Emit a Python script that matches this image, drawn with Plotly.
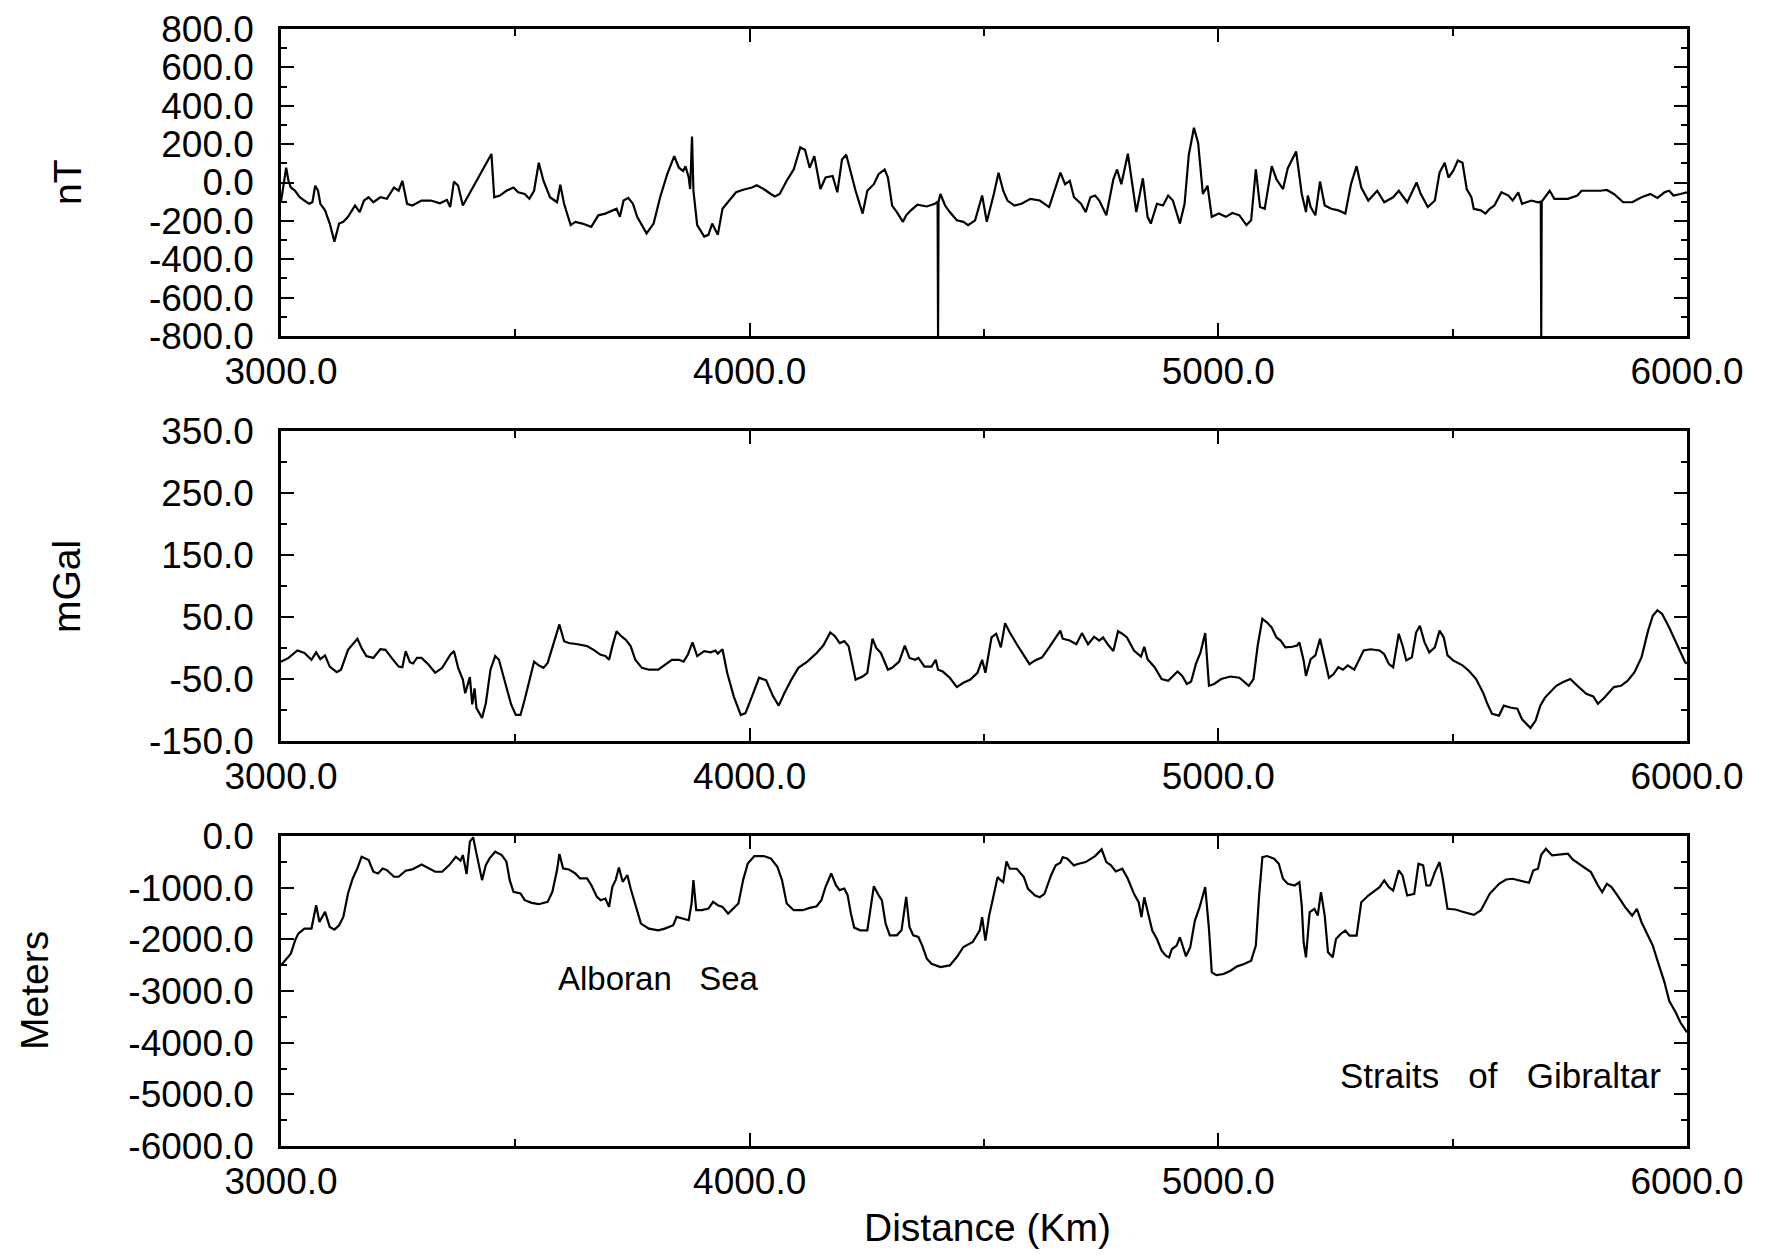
import plotly.graph_objects as go

# ---------------- data ----------------
mag_km = [3000,3011,3016,3021,3030,3040,3050,3060,3067,3073,
          3079,3084,3094,3104,3114,3124,3133,3143,3158,3168,
          3177,3187,3197,3212,3226,3241,3251,3259,3269,3280,
          3300,3320,3339,3354,3361,3369,3378,3388,3449,3455,
          3467,3481,3496,3506,3520,3530,3540,3550,3560,3574,
          3589,3596,3604,3618,3628,3643,3662,3677,3692,3716,
          3723,3731,3741,3751,3760,3780,3795,3809,3824,3839,
          3849,3858,3863,3870,3873,3877,3880,3888,3903,3912,
          3920,3932,3942,3956,3971,3986,4005,4015,4030,4045,
          4054,4064,4079,4094,4108,4118,4128,4138,4151,4162,
          4177,4187,4197,4206,4216,4226,4241,4251,4265,4275,
          4288,4295,4304,4314,4327,4334,4344,4358,4378,4395,
          4401,4402,4403,4407,4417,4427,4442,4456,4466,4481,
          4496,4506,4521,4531,4541,4550,4565,4580,4599,4619,
          4639,4648,4663,4673,4683,4692,4707,4717,4727,4737,
          4746,4761,4776,4784,4793,4807,4815,4825,4839,4849,
          4856,4869,4882,4893,4903,4918,4928,4937,4948,4957,
          4967,4977,4986,5001,5016,5030,5045,5060,5070,5080,
          5089,5099,5114,5124,5138,5148,5166,5178,5187,5191,
          5197,5207,5217,5227,5241,5256,5271,5283,5295,5305,
          5320,5339,5354,5373,5385,5403,5423,5432,5447,5462,
          5472,5483,5491,5501,5511,5521,5530,5540,5545,5560,
          5570,5579,5589,5604,5619,5628,5640,5648,5668,5682,
          5688,5689,5690,5697,5707,5717,5746,5766,5775,5795,
          5815,5829,5844,5864,5883,5903,5922,5937,5952,5962,
          5971,5986,6000]
mag_nT = [-100,77,9,-26,-43,-77,-94,-111,-103,-17,
          -43,-111,-145,-214,-308,-214,-205,-179,-120,-154,
          -94,-77,-103,-77,-85,-26,-43,9,-111,-120,
          -94,-94,-108,-91,-128,5,-17,-120,149,-77,
          -68,-43,-26,-51,-60,-85,-43,103,9,-77,
          -103,-12,-111,-222,-205,-214,-231,-171,-162,-137,
          -179,-94,-80,-111,-179,-265,-214,-77,43,137,
          77,60,85,26,-34,239,-43,-222,-282,-273,
          -214,-273,-137,-94,-51,-38,-26,-14,-34,-60,
          -73,-60,9,68,183,171,77,137,-34,26,
          34,-51,120,145,43,-43,-162,-43,-9,43,
          68,26,-120,-154,-205,-171,-145,-115,-125,-111,
          -100,-800,-100,-60,-120,-154,-197,-205,-222,-197,
          -68,-205,-60,51,-43,-94,-120,-111,-85,-94,
          -128,-60,51,-9,9,-77,-111,-154,-77,-68,
          -94,-171,17,68,-9,150,26,-154,22,-179,
          -214,-111,-120,-68,-94,-214,-111,145,285,205,
          -60,-17,-179,-162,-179,-159,-171,-222,-197,68,
          -128,-137,85,17,-34,73,162,-60,-154,-68,
          -128,-171,5,-120,-137,-145,-162,-9,85,-26,
          -94,-43,-103,-77,-43,-103,0,-60,-128,-94,
          51,103,26,60,115,103,-34,-77,-137,-145,
          -162,-137,-120,-51,-68,-94,-51,-111,-94,-103,
          -100,-800,-100,-77,-43,-85,-85,-68,-43,-43,
          -43,-39,-60,-103,-103,-77,-60,-80,-51,-43,
          -68,-60,-51]

grav_km = [3000,3016,3035,3050,3065,3075,3084,3094,3104,3119,
           3128,3143,3163,3172,3182,3197,3212,3223,3236,3251,
           3259,3266,3275,3282,3290,3300,3315,3329,3344,3361,
           3369,3378,3388,3393,3403,3408,3413,3417,3429,3437,
           3447,3457,3465,3476,3491,3501,3511,3520,3530,3540,
           3550,3560,3569,3579,3589,3594,3604,3614,3633,3653,
           3667,3682,3692,3700,3707,3716,3726,3736,3746,3756,
           3770,3785,3805,3819,3834,3849,3859,3868,3878,3888,
           3903,3917,3927,3932,3942,3952,3966,3981,3991,4005,
           4020,4035,4050,4062,4074,4089,4104,4123,4143,4157,
           4172,4182,4192,4202,4211,4226,4241,4251,4262,4270,
           4280,4295,4304,4319,4331,4341,4353,4360,4373,4388,
           4397,4402,4412,4427,4442,4456,4471,4486,4496,4503,
           4516,4526,4536,4545,4555,4570,4585,4597,4609,4624,
           4639,4653,4663,4668,4683,4697,4709,4722,4735,4746,
           4754,4766,4776,4786,4795,4805,4820,4835,4842,4849,
           4864,4879,4893,4913,4923,4933,4942,4952,4962,4972,
           4980,4991,5006,5026,5045,5065,5075,5084,5094,5104,
           5114,5124,5133,5143,5158,5168,5173,5182,5187,5197,
           5207,5217,5227,5236,5246,5256,5266,5276,5290,5300,
           5310,5325,5344,5354,5364,5373,5385,5393,5401,5413,
           5422,5430,5440,5450,5462,5472,5481,5489,5501,5521,
           5535,5550,5565,5574,5584,5599,5609,5623,5638,5648,
           5658,5666,5677,5687,5697,5712,5721,5736,5751,5766,
           5785,5800,5810,5824,5844,5859,5873,5888,5903,5917,
           5927,5937,5947,5962,5981,5996,6000]
grav_mgal = [-22,-16,-4,-8,-19,-7,-18,-12,-30,-39,
             -35,-3,15,0,-13,-16,-2,-3,-16,-30,
             -31,-5,-23,-25,-16,-16,-27,-40,-32,-11,
             -5,-32,-51,-73,-47,-91,-65,-97,-113,-89,
             -35,-13,-19,-48,-91,-108,-108,-83,-51,-22,
             -28,-32,-24,0,27,38,11,8,6,3,
             -3,-11,-13,-19,3,27,19,13,3,-19,
             -32,-35,-35,-27,-19,-19,-22,-11,9,-13,
             -5,-7,-4,-9,-2,-40,-78,-108,-105,-78,
             -48,-52,-78,-93,-73,-51,-32,-22,-8,4,
             25,19,8,11,3,-51,-46,-40,15,0,
             -8,-35,-32,-22,4,-16,-19,-16,-30,-30,
             -19,-35,-38,-48,-63,-56,-51,-40,-19,-40,
             17,23,1,40,25,6,-12,-26,-20,-15,
             1,17,28,15,12,6,24,6,18,12,
             17,4,-5,27,23,17,-4,-14,2,-18,
             -31,-50,-53,-38,-45,-58,-54,-26,-7,24,
             -61,-58,-50,-46,-48,-61,-50,4,47,41,
             33,17,12,1,2,4,9,-20,-45,-18,
             -12,15,-20,-48,-42,-31,-35,-28,-35,-20,
             -4,-2,-4,-10,-26,-31,23,4,-20,-15,
             25,36,9,-7,1,28,17,-12,-20,-28,
             -37,-50,-72,-90,-106,-109,-93,-96,-98,-115,
             -123,-129,-117,-93,-80,-69,-61,-55,-50,-61,
             -74,-78,-90,-80,-63,-61,-53,-39,-15,28,
             52,61,55,33,1,-23,-25]

bathy_km = [3000,3021,3030,3037,3050,3065,3075,3082,3094,3104,
            3114,3124,3133,3143,3153,3163,3172,3187,3197,3207,
            3217,3226,3241,3251,3266,3280,3300,3315,3329,3344,
            3359,3373,3383,3388,3396,3403,3410,3417,3425,3429,
            3437,3445,3457,3471,3481,3488,3496,3511,3520,3535,
            3550,3569,3579,3589,3594,3602,3614,3628,3638,3653,
            3662,3674,3682,3692,3700,3707,3714,3721,3729,3739,
            3746,3756,3768,3785,3805,3819,3837,3844,3859,3870,
            3876,3880,3886,3898,3912,3922,3932,3942,3954,3966,
            3976,3986,3996,4010,4030,4045,4059,4069,4079,4094,
            4113,4128,4143,4153,4162,4174,4184,4192,4202,4209,
            4216,4223,4236,4251,4258,4265,4275,4282,4290,4299,
            4314,4324,4334,4341,4349,4360,4368,4378,4388,4407,
            4427,4442,4456,4476,4491,4496,4503,4511,4519,4529,
            4536,4541,4548,4555,4570,4585,4594,4609,4619,4629,
            4643,4653,4663,4668,4678,4692,4702,4717,4737,4751,
            4761,4771,4781,4795,4807,4820,4830,4836,4842,4849,
            4859,4869,4879,4888,4895,4901,4911,4918,4923,4931,
            4940,4950,4960,4972,4980,4986,4996,5011,5026,5040,
            5055,5070,5080,5087,5094,5104,5119,5129,5138,5148,
            5163,5173,5178,5182,5187,5195,5205,5212,5219,5227,
            5234,5244,5251,5261,5271,5280,5295,5305,5320,5334,
            5344,5354,5364,5373,5385,5393,5403,5418,5427,5437,
            5444,5452,5462,5472,5479,5489,5506,5525,5545,5560,
            5579,5599,5614,5628,5643,5663,5672,5682,5689,5699,
            5712,5726,5746,5756,5766,5780,5795,5810,5819,5829,
            5839,5854,5868,5883,5893,5903,5913,5927,5937,5952,
            5962,5976,5986,5996,6000]
bathy_m = [-2500,-2277,-2019,-1889,-1792,-1792,-1339,-1663,-1469,-1760,
           -1812,-1727,-1566,-1113,-822,-628,-401,-466,-692,-725,
           -628,-660,-789,-789,-673,-647,-550,-628,-692,-692,
           -563,-401,-479,-369,-738,-110,-26,-336,-725,-854,
           -563,-433,-304,-369,-498,-854,-1080,-1113,-1242,-1294,
           -1320,-1275,-1080,-660,-349,-628,-647,-725,-822,-822,
           -951,-1178,-1242,-1210,-1372,-983,-854,-608,-886,-757,
           -1016,-1307,-1695,-1792,-1825,-1792,-1727,-1566,-1598,-1630,
           -1307,-854,-1436,-1436,-1404,-1275,-1339,-1372,-1501,-1404,
           -1307,-854,-531,-388,-388,-433,-595,-854,-1307,-1436,
           -1436,-1391,-1359,-1242,-983,-725,-951,-1048,-1016,-1145,
           -1501,-1773,-1825,-1825,-1436,-971,-1145,-1242,-1695,-1922,
           -1922,-1825,-1178,-1760,-1922,-1954,-2116,-2374,-2472,-2536,
           -2504,-2342,-2148,-2051,-1825,-1572,-2025,-1540,-1216,-796,
           -861,-893,-492,-634,-634,-796,-1022,-1152,-1184,-1119,
           -763,-569,-518,-408,-440,-569,-537,-505,-388,-259,
           -505,-569,-686,-634,-828,-1119,-1281,-1572,-1184,-1475,
           -1831,-1993,-2219,-2316,-2349,-2187,-2122,-1960,-2122,-2329,
           -2155,-1637,-1378,-990,-1799,-2640,-2692,-2672,-2607,-2523,
           -2478,-2413,-2122,-1152,-408,-388,-440,-537,-828,-925,
           -958,-893,-1346,-2057,-2349,-1475,-1410,-1540,-1087,-1540,
           -2252,-2349,-1993,-1896,-1831,-1928,-1928,-1281,-1152,-1055,
           -990,-861,-990,-1055,-666,-763,-1152,-1119,-537,-569,
           -958,-958,-699,-505,-828,-1410,-1423,-1475,-1527,-1443,
           -1119,-925,-841,-828,-861,-906,-666,-634,-362,-246,
           -375,-362,-343,-453,-518,-602,-699,-958,-1087,-925,
           -990,-1184,-1378,-1540,-1410,-1669,-1863,-2122,-2413,-2834,
           -3190,-3416,-3610,-3740,-3800]

x_tick_vals = [3000, 4000, 5000, 6000]
x_tick_text = ["3000.0", "4000.0", "5000.0", "6000.0"]
mag_tick_vals = [-800, -600, -400, -200, 0, 200, 400, 600, 800]
mag_tick_text = ["-800.0", "-600.0", "-400.0", "-200.0", "0.0", "200.0", "400.0", "600.0", "800.0"]
grav_tick_vals = [-150, -50, 50, 150, 250, 350]
grav_tick_text = ["-150.0", "-50.0", "50.0", "150.0", "250.0", "350.0"]
bathy_tick_vals = [-6000, -5000, -4000, -3000, -2000, -1000, 0]
bathy_tick_text = ["-6000.0", "-5000.0", "-4000.0", "-3000.0", "-2000.0", "-1000.0", "0.0"]

# ---------------- figure ----------------
FONT = "Liberation Sans, Arial, Helvetica, sans-serif"
PAGE = 8                      # default body margin of the html page
W, H = 1772 - 2 * PAGE, 1259 - 2 * PAGE
# plot-area edges in screen pixels, converted to figure pixels
LEFT, RIGHT, TOP, BOTTOM = 281 - PAGE, 1687 - PAGE, 29 - PAGE, 1146 - PAGE
ML, MR, MT, MB = LEFT, W - RIGHT, TOP, H - BOTTOM
plot_w = RIGHT - LEFT
plot_h = BOTTOM - TOP


def px_x(sx):
    return (sx - PAGE - LEFT) / plot_w


def px_y(sy):
    return (BOTTOM - (sy - PAGE)) / plot_h


def dom(top_s, bot_s):
    return [px_y(bot_s), px_y(top_s)]


fig = go.Figure()
fig.add_trace(go.Scatter(x=mag_km, y=mag_nT, mode="lines",
                         line=dict(color="black", width=2.2), xaxis="x", yaxis="y"))
fig.add_trace(go.Scatter(x=grav_km, y=grav_mgal, mode="lines",
                         line=dict(color="black", width=2.2), xaxis="x2", yaxis="y2"))
fig.add_trace(go.Scatter(x=bathy_km, y=bathy_m, mode="lines",
                         line=dict(color="black", width=2.2), xaxis="x3", yaxis="y3"))

common = dict(showline=True, linecolor="black", linewidth=2.5, mirror="ticks",
              ticks="inside", tickcolor="black", tickwidth=2, showgrid=False,
              zeroline=False, automargin=False, ticklabeloverflow="allow",
              tickfont=dict(family=FONT, size=37, color="black"),
              fixedrange=True)


def xax(anchor):
    return dict(common, range=[3000, 6000], anchor=anchor, domain=[0, 1],
                tickmode="array", tickvals=x_tick_vals, ticktext=x_tick_text,
                ticklen=13, ticklabelstandoff=1,
                minor=dict(ticks="inside", dtick=500, tick0=3000, ticklen=7,
                           tickcolor="black", tickwidth=2))


def yax(anchor, rng, vals, text, minor_dtick, d):
    return dict(common, range=rng, anchor=anchor, domain=d,
                tickmode="array", tickvals=vals, ticktext=text,
                ticklen=13, ticklabelstandoff=17,
                minor=dict(ticks="inside", dtick=minor_dtick, tick0=rng[0], ticklen=6,
                           tickcolor="black", tickwidth=2))


fig.update_layout(
    width=W, height=H,
    margin=dict(l=ML, r=MR, t=MT, b=MB, autoexpand=False),
    paper_bgcolor="white", plot_bgcolor="white",
    showlegend=False,
    font=dict(family=FONT, color="black"),
    xaxis=xax("y"),
    xaxis2=xax("y2"),
    xaxis3=xax("y3"),
    yaxis=yax("x", [-800, 800], mag_tick_vals, mag_tick_text, 100, dom(29, 336)),
    yaxis2=yax("x2", [-150, 350], grav_tick_vals, grav_tick_text, 50, dom(431, 741)),
    yaxis3=yax("x3", [-6000, 0], bathy_tick_vals, bathy_tick_text, 500, dom(836, 1146)),
)

title_font = dict(family=FONT, size=39, color="black")
fig.add_annotation(text="nT", xref="paper", yref="paper", x=px_x(67), y=px_y(182),
                   textangle=-90, showarrow=False, font=title_font,
                   xanchor="center", yanchor="middle")
fig.add_annotation(text="mGal", xref="paper", yref="paper", x=px_x(66), y=px_y(587),
                   textangle=-90, showarrow=False, font=title_font,
                   xanchor="center", yanchor="middle")
fig.add_annotation(text="Meters", xref="paper", yref="paper", x=px_x(34), y=px_y(991),
                   textangle=-90, showarrow=False, font=title_font,
                   xanchor="center", yanchor="middle")
fig.add_annotation(text="Distance (Km)", xref="paper", yref="paper", x=px_x(987), y=px_y(1250),
                   showarrow=False, font=title_font, xanchor="center", yanchor="bottom",
                   borderpad=0)

sp = "\u00a0\u00a0\u00a0"
fig.add_annotation(text="Alboran" + sp + "Sea", xref="x3", yref="y3", x=3806, y=-2750,
                   showarrow=False, font=dict(family=FONT, size=33, color="black"),
                   xanchor="center", yanchor="middle")
fig.add_annotation(text="Straits" + sp + "of" + sp + "Gibraltar", xref="x3", yref="y3",
                   x=5603, y=-4626, showarrow=False,
                   font=dict(family=FONT, size=35, color="black"),
                   xanchor="center", yanchor="middle")

fig.write_html("out.html")
